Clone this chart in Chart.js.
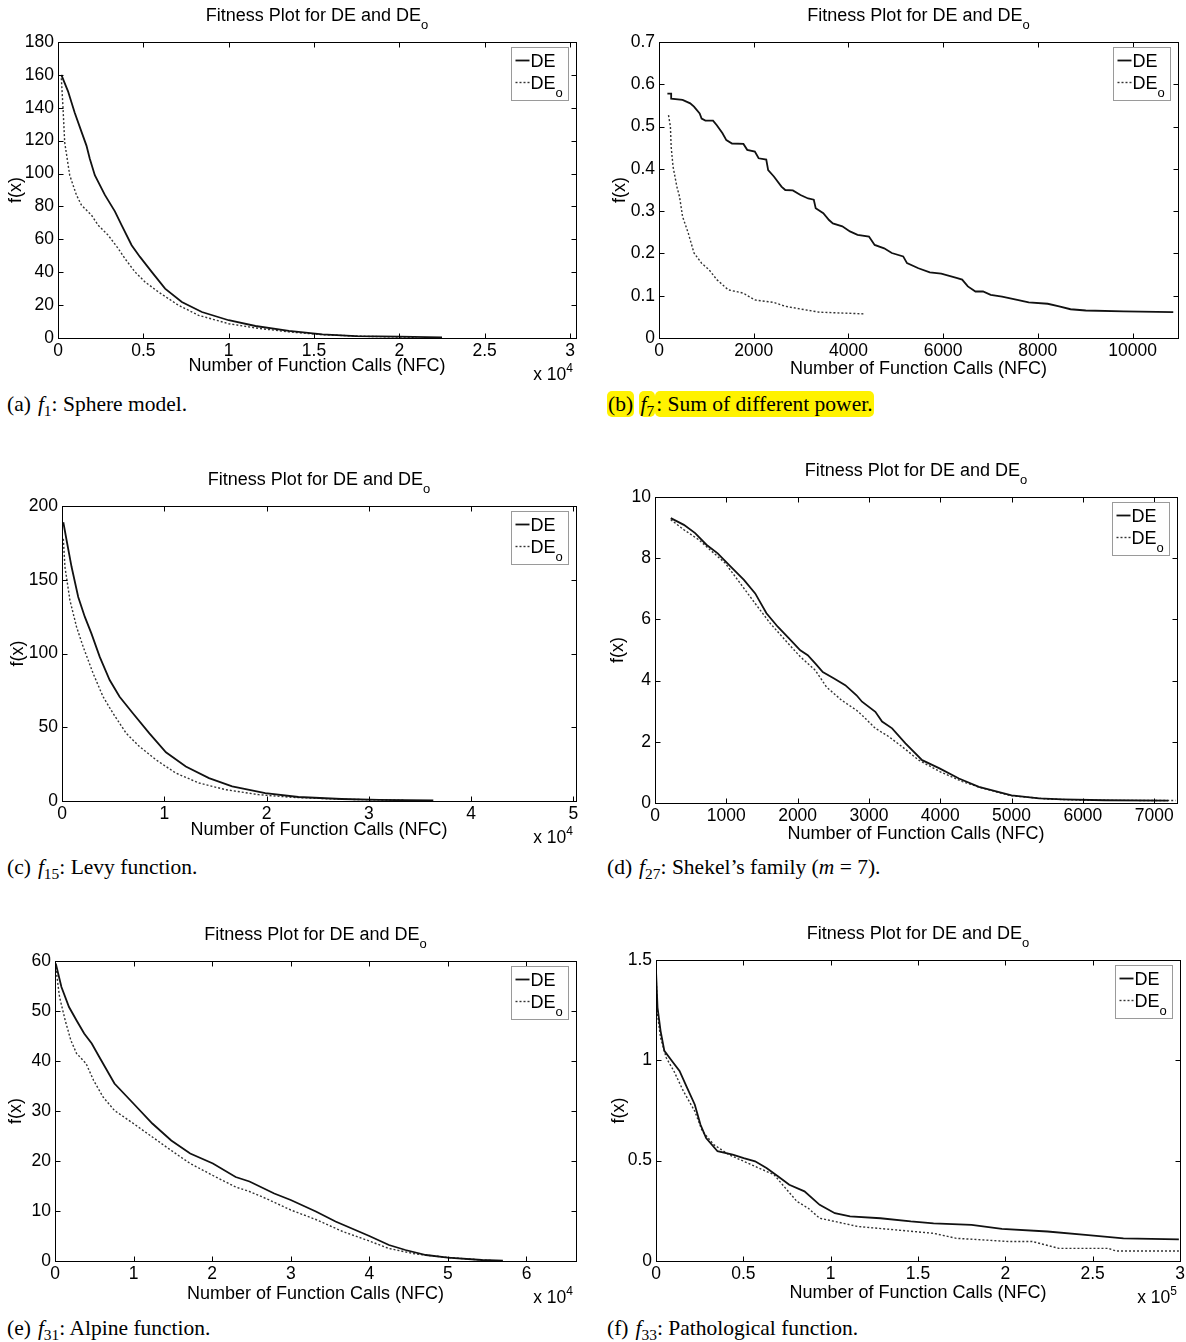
<!DOCTYPE html>
<html><head><meta charset="utf-8">
<script src="https://cdn.jsdelivr.net/npm/chart.js@4.4.0/dist/chart.umd.min.js"></script>
<style>
html,body{margin:0;padding:0;background:#fff;width:1186px;height:1342px;overflow:hidden;position:relative}
canvas{position:absolute}
.cap{position:absolute;font-family:'Liberation Serif','Times New Roman',serif;font-size:21.5px;line-height:24px;color:#000;white-space:nowrap}
.cap sub{font-size:0.72em;vertical-align:-0.3em;line-height:0}
.lab{margin-right:7px}
.hl{background:#fff200;border-radius:5px;padding:1px 1px}
</style></head><body>
<div class="cap" style="left:7px;top:392px"><span class="lab">(a)</span><i>f</i><sub>1</sub>: Sphere model.</div>
<div class="cap" style="left:607px;top:392px"><span class="hl">(b)</span> <span class="hl"><i>f</i><sub>7</sub></span><span class="hl">: Sum of different power.</span></div>
<div class="cap" style="left:7px;top:855px"><span class="lab">(c)</span><i>f</i><sub>15</sub>: Levy function.</div>
<div class="cap" style="left:607px;top:855px"><span class="lab">(d)</span><i>f</i><sub>27</sub>: Shekel’s family (<i>m</i> = 7).</div>
<div class="cap" style="left:7px;top:1316px"><span class="lab">(e)</span><i>f</i><sub>31</sub>: Alpine function.</div>
<div class="cap" style="left:607px;top:1316px"><span class="lab">(f)</span><i>f</i><sub>33</sub>: Pathological function.</div>
<script>
// ---------- DATA ----------
const seriesNames = ['DE', 'DE'];
// (a) f1 Sphere
const a_deX  = [196, 588, 980, 1373, 1667, 1863, 2157, 2745, 3333, 3725, 4314, 4804, 5490, 6275, 7255, 8431, 10000, 11569, 13529, 15490, 17451, 20000, 22500];
const a_deY  = [160, 150, 137, 125.5, 117, 109, 99, 87, 77, 68.6, 56.4, 49.3, 40.2, 30, 21.9, 15.8, 10.8, 7.3, 4.3, 2.2, 1.2, 0.8, 0.4];
const a_deoX = [196, 294, 392, 686, 1078, 1373, 1961, 2353, 2941, 3529, 3922, 4510, 5098, 5882, 7059, 8235, 10000, 11569, 13529, 15490, 18000, 21000];
const a_deoY = [158, 139.7, 119, 99, 87, 80.8, 74.7, 68.6, 62.5, 54.4, 48.3, 40.2, 34.1, 28, 19.9, 13.8, 8.7, 6.1, 3.7, 2.0, 1.0, 0.4];
const a_xTicks = [0, 5000, 10000, 15000, 20000, 25000, 30000];
const a_xTickLabels = ['0', '0.5', '1', '1.5', '2', '2.5', '3'];
const a_yTicks = [0, 20, 40, 60, 80, 100, 120, 140, 160, 180];
const a_yTickLabels = ['0', '20', '40', '60', '80', '100', '120', '140', '160', '180'];
// (b) f7 Sum of different power
const b_deX  = [177, 257, 257, 498, 659, 739, 859, 900, 980, 1141, 1221, 1341, 1422, 1542, 1783, 1863, 2024, 2104, 2265, 2305, 2426, 2586, 2667, 2827, 2988, 3149, 3269, 3309, 3470, 3590, 3671, 3871, 4032, 4193, 4434, 4554, 4755, 4916, 5157, 5237, 5478, 5719, 5960, 6281, 6402, 6522, 6683, 6843, 7004, 7245, 7566, 7807, 8209, 8450, 8691, 9012, 9815, 10860];
const b_deY  = [0.578, 0.578, 0.566, 0.563, 0.555, 0.547, 0.531, 0.519, 0.514, 0.514, 0.503, 0.484, 0.468, 0.460, 0.459, 0.445, 0.441, 0.425, 0.422, 0.397, 0.382, 0.358, 0.350, 0.349, 0.338, 0.330, 0.327, 0.307, 0.295, 0.279, 0.271, 0.264, 0.252, 0.244, 0.240, 0.220, 0.212, 0.201, 0.193, 0.177, 0.165, 0.155, 0.152, 0.142, 0.138, 0.122, 0.110, 0.110, 0.102, 0.098, 0.090, 0.084, 0.081, 0.075, 0.068, 0.065, 0.063, 0.061];
const b_deoX = [201, 241, 257, 297, 377, 434, 498, 618, 739, 900, 1060, 1221, 1462, 1783, 2024, 2426, 2667, 3068, 3390, 4353];
const b_deoY = [0.527, 0.50, 0.452, 0.405, 0.358, 0.334, 0.287, 0.248, 0.201, 0.177, 0.161, 0.138, 0.114, 0.106, 0.090, 0.084, 0.075, 0.067, 0.061, 0.057];
const b_xTicks = [0, 2000, 4000, 6000, 8000, 10000];
const b_xTickLabels = ['0', '2000', '4000', '6000', '8000', '10000'];
const b_yTicks = [0, 0.1, 0.2, 0.3, 0.4, 0.5, 0.6, 0.7];
const b_yTickLabels = ['0', '0.1', '0.2', '0.3', '0.4', '0.5', '0.6', '0.7'];
// (c) f15 Levy
const c_deX  = [129, 453, 939, 1586, 2233, 2880, 3689, 4660, 5631, 6926, 8544, 10162, 12104, 14369, 16634, 19870, 23107, 27314, 31000, 36300];
const c_deY  = [189, 176.6, 158.6, 138.3, 124.8, 113.5, 97.7, 82, 70.7, 59.5, 45.9, 33, 23.4, 15.5, 9.9, 5.4, 2.7, 1.35, 0.7, 0.4];
const c_deoX = [129, 291, 777, 1424, 2071, 3042, 4013, 4984, 6278, 7573, 9191, 11133, 13398, 15987, 19223, 22459, 27314, 33500];
const c_deoY = [177.7, 158.6, 136, 118, 104.5, 86.5, 70.7, 59.5, 45.9, 36.9, 27.9, 18.9, 12.2, 7.7, 4.3, 2.5, 1.2, 0.45];
const c_xTicks = [0, 10000, 20000, 30000, 40000, 50000];
const c_xTickLabels = ['0', '1', '2', '3', '4', '5'];
const c_yTicks = [0, 50, 100, 150, 200];
const c_yTickLabels = ['0', '50', '100', '150', '200'];
// (d) f27 Shekel m=7
const d_deX  = [221, 405, 563, 721, 879, 1037, 1247, 1405, 1563, 1721, 1879, 2037, 2142, 2247, 2353, 2511, 2668, 2826, 2903, 3090, 3184, 3325, 3512, 3746, 3990, 4262, 4542, 5000, 5385, 5713, 6300, 7195];
const d_deY  = [9.31, 9.09, 8.82, 8.44, 8.16, 7.78, 7.29, 6.85, 6.20, 5.76, 5.38, 4.99, 4.83, 4.56, 4.28, 4.07, 3.85, 3.52, 3.31, 2.98, 2.66, 2.44, 1.95, 1.40, 1.13, 0.80, 0.53, 0.25, 0.15, 0.12, 0.09, 0.08];
const d_deoX = [221, 405, 616, 774, 984, 1195, 1405, 1616, 1826, 2037, 2247, 2405, 2616, 2826, 2903, 3090, 3278, 3465, 3699, 4000, 4310, 4542, 4984, 5511, 6037, 7300];
const d_deoY = [9.26, 8.93, 8.6, 8.27, 7.84, 7.18, 6.52, 5.87, 5.32, 4.78, 4.34, 3.79, 3.36, 3.03, 2.87, 2.44, 2.17, 1.84, 1.40, 1.02, 0.70, 0.52, 0.24, 0.13, 0.09, 0.08];
const d_xTicks = [0, 1000, 2000, 3000, 4000, 5000, 6000, 7000];
const d_xTickLabels = ['0', '1000', '2000', '3000', '4000', '5000', '6000', '7000'];
const d_yTicks = [0, 2, 4, 6, 8, 10];
const d_yTickLabels = ['0', '2', '4', '6', '8', '10'];
// (e) f31 Alpine
const e_deX  = [96, 819, 1783, 2747, 3711, 4675, 5639, 7566, 9976, 12386, 14795, 17205, 20096, 22988, 24750, 27900, 30000, 33200, 35700, 40000, 42500, 44600, 47200, 50000, 54300, 57000];
const e_deY  = [59.5, 54.8, 50.8, 48.1, 45.5, 43.5, 40.8, 35.5, 31.5, 27.5, 24.1, 21.5, 19.5, 16.8, 15.9, 13.5, 12.2, 9.9, 7.9, 5.0, 3.2, 2.2, 1.2, 0.66, 0.2, 0.08];
const e_deoX = [96, 578, 1301, 2024, 2747, 3952, 4916, 6120, 7566, 9976, 12386, 14795, 17205, 20096, 22988, 24750, 27000, 30000, 33200, 36600, 40000, 42500, 45900, 50000, 53500, 55500];
const e_deoY = [58.8, 52.8, 48.1, 44.1, 41.5, 39.5, 36.1, 32.8, 30.1, 27.5, 24.8, 22.1, 19.5, 17.1, 14.8, 13.9, 12.4, 10.2, 8.3, 5.9, 4.0, 2.5, 1.4, 0.7, 0.3, 0.1];
const e_xTicks = [0, 10000, 20000, 30000, 40000, 50000, 60000];
const e_xTickLabels = ['0', '1', '2', '3', '4', '5', '6'];
const e_yTicks = [0, 10, 20, 30, 40, 50, 60];
const e_yTickLabels = ['0', '10', '20', '30', '40', '50', '60'];
// (f) f33 Pathological
const f_deX  = [0, 870, 2609, 4783, 9130, 13478, 17826, 22174, 25435, 28696, 35217, 43913, 50217, 56739, 63261, 69783, 76304, 85000, 93696, 102391, 111087, 128478, 145870, 158913, 180652, 198043, 224130, 245870, 267609, 299348];
const f_deY  = [1.447, 1.263, 1.147, 1.047, 0.997, 0.947, 0.863, 0.78, 0.68, 0.613, 0.547, 0.53, 0.513, 0.497, 0.463, 0.422, 0.38, 0.347, 0.28, 0.238, 0.222, 0.213, 0.197, 0.188, 0.18, 0.16, 0.147, 0.13, 0.113, 0.108];
const f_deoX = [0, 870, 2609, 5870, 10217, 15652, 22174, 26522, 33043, 41739, 50217, 58913, 67609, 74130, 80652, 87174, 93696, 102391, 115435, 137174, 158913, 171957, 202391, 215435, 230652, 258913, 263261, 299348];
const f_deoY = [1.43, 1.23, 1.113, 1.013, 0.947, 0.847, 0.747, 0.647, 0.58, 0.53, 0.497, 0.463, 0.43, 0.363, 0.297, 0.263, 0.213, 0.197, 0.172, 0.155, 0.138, 0.113, 0.097, 0.097, 0.063, 0.063, 0.05, 0.05];
const f_xTicks = [0, 50000, 100000, 150000, 200000, 250000, 300000];
const f_xTickLabels = ['0', '0.5', '1', '1.5', '2', '2.5', '3'];
const f_yTicks = [0, 0.5, 1, 1.5];
const f_yTickLabels = ['0', '0.5', '1', '1.5'];

const titleText = 'Fitness Plot for DE and DE';
const titleSub = 'o';
const xLabelText = 'Number of Function Calls (NFC)';
const yLabelText = 'f(x)';

// ---------- LAYOUT ----------
const FONT = "'Liberation Sans', Arial, Helvetica, sans-serif";
const FS = 18;     // labels, title, legend
const TFS = 17.5;  // tick labels
const panels = [
  {canvas:[0,0,593,392],     plot:[58,42,576,338],    xMax:30350, yMax:180, exp:'4', ylx:43, xlo:27,
   de:[a_deX,a_deY], deo:[a_deoX,a_deoY], xt:[a_xTicks,a_xTickLabels], yt:[a_yTicks,a_yTickLabels]},
  {canvas:[593,0,593,392],   plot:[659,42,1178,338],  xMax:10960, yMax:0.7, exp:null, ylx:40, xlo:30,
   de:[b_deX,b_deY], deo:[b_deoX,b_deoY], xt:[b_xTicks,b_xTickLabels], yt:[b_yTicks,b_yTickLabels]},
  {canvas:[0,450,593,405],   plot:[62,506,576,801],   xMax:50250, yMax:200, exp:'4', ylx:45, xlo:28,
   de:[c_deX,c_deY], deo:[c_deoX,c_deoY], xt:[c_xTicks,c_xTickLabels], yt:[c_yTicks,c_yTickLabels]},
  {canvas:[593,450,593,405], plot:[655,497,1177,803], xMax:7320, yMax:10, exp:null, ylx:38, xlo:30,
   de:[d_deX,d_deY], deo:[d_deoX,d_deoY], xt:[d_xTicks,d_xTickLabels], yt:[d_yTicks,d_yTickLabels]},
  {canvas:[0,910,593,405],   plot:[55,961,576,1261],  xMax:66300, yMax:60, exp:'4', ylx:40, xlo:32,
   de:[e_deX,e_deY], deo:[e_deoX,e_deoY], xt:[e_xTicks,e_xTickLabels], yt:[e_yTicks,e_yTickLabels]},
  {canvas:[593,910,593,405], plot:[656,960,1180,1261],xMax:300000, yMax:1.5, exp:'5', ylx:38, xlo:31,
   de:[f_deX,f_deY], deo:[f_deoX,f_deoY], xt:[f_xTicks,f_xTickLabels], yt:[f_yTicks,f_yTickLabels]}
];

function drawRich(ctx, parts, x, y, align) {
  let total = 0;
  parts.forEach(p => { ctx.font = p.size + 'px ' + FONT; p.w = ctx.measureText(p.t).width; total += p.w; });
  let cx = align === 'center' ? x - total / 2 : (align === 'right' ? x - total : x);
  ctx.textAlign = 'left'; ctx.textBaseline = 'alphabetic';
  parts.forEach(p => { ctx.font = p.size + 'px ' + FONT; ctx.fillText(p.t, cx, y + (p.dy || 0)); cx += p.w; });
}

const matlabPlugin = {
  id: 'matlab',
  afterDraw(chart, args, o) {
    const ctx = chart.ctx, ca = chart.chartArea;
    const xs = chart.scales.x, ys = chart.scales.y;
    const L = Math.round(ca.left) + 0.5, R = Math.round(ca.right) + 0.5;
    const T = Math.round(ca.top) + 0.5, B = Math.round(ca.bottom) + 0.5;
    ctx.save();
    ctx.strokeStyle = '#000'; ctx.lineWidth = 1; ctx.setLineDash([]);
    ctx.strokeRect(L, T, R - L, B - T);
    const tl = 5;
    ctx.beginPath();
    xs.ticks.forEach(t => {
      const px = Math.round(xs.getPixelForValue(t.value)) + 0.5;
      ctx.moveTo(px, B); ctx.lineTo(px, B - tl);
      ctx.moveTo(px, T); ctx.lineTo(px, T + tl);
    });
    ys.ticks.forEach(t => {
      const py = Math.round(ys.getPixelForValue(t.value)) + 0.5;
      ctx.moveTo(L, py); ctx.lineTo(L + tl, py);
      ctx.moveTo(R, py); ctx.lineTo(R - tl, py);
    });
    ctx.stroke();
    ctx.fillStyle = '#000';
    const cx = (ca.left + ca.right) / 2, cy = (ca.top + ca.bottom) / 2;
    // title
    drawRich(ctx, [{t: titleText, size: FS}, {t: titleSub, size: 13, dy: 8}], cx, ca.top - 21, 'center');
    // x label
    drawRich(ctx, [{t: xLabelText, size: FS}], cx, ca.bottom + o.xlo + 6, 'center');
    // exponent
    if (o.exp) drawRich(ctx, [{t: 'x 10', size: TFS}, {t: o.exp, size: 12, dy: -8}], ca.right - 3, ca.bottom + 42, 'right');
    // y label
    ctx.save();
    ctx.translate(ca.left - o.ylx, cy);
    ctx.rotate(-Math.PI / 2);
    drawRich(ctx, [{t: yLabelText, size: FS}], 0, 6, 'center');
    ctx.restore();
    // legend
    const lw = 57, lh = 53;
    const lx = Math.round(ca.right - 8 - lw) + 0.5, ly = Math.round(ca.top + 5) + 0.5;
    ctx.fillStyle = '#fff'; ctx.fillRect(lx, ly, lw, lh);
    ctx.strokeStyle = '#9a9a9a'; ctx.lineWidth = 1; ctx.strokeRect(lx, ly, lw, lh);
    ctx.strokeStyle = '#111'; ctx.lineWidth = 1.8;
    ctx.beginPath(); ctx.moveTo(lx + 4, ly + 13); ctx.lineTo(lx + 18, ly + 13); ctx.stroke();
    ctx.strokeStyle = '#333'; ctx.lineWidth = 1.4; ctx.setLineDash([2, 2]);
    ctx.beginPath(); ctx.moveTo(lx + 4, ly + 35); ctx.lineTo(lx + 18, ly + 35); ctx.stroke();
    ctx.setLineDash([]);
    ctx.fillStyle = '#000';
    drawRich(ctx, [{t: seriesNames[0], size: FS}], lx + 19, ly + 19, 'left');
    drawRich(ctx, [{t: seriesNames[1], size: FS}, {t: titleSub, size: 13, dy: 8}], lx + 19, ly + 41, 'left');
    ctx.restore();
  }
};

panels.forEach(p => {
  const cv = document.createElement('canvas');
  const [cx, cy, cw, ch] = p.canvas;
  cv.width = cw; cv.height = ch;
  cv.style.left = cx + 'px'; cv.style.top = cy + 'px';
  cv.style.width = cw + 'px'; cv.style.height = ch + 'px';
  document.body.appendChild(cv);
  const padTop = p.plot[1] - cy;
  const padRight = (cx + cw) - p.plot[2];
  const yW = p.plot[0] - cx;
  const xH = (cy + ch) - p.plot[3];
  const toPts = (xs, ys) => xs.map((x, i) => ({x: x, y: ys[i]}));
  const tickFont = {family: FONT, size: TFS};
  new Chart(cv, {
    type: 'line',
    data: {datasets: [
      {label: 'DE', data: toPts(p.de[0], p.de[1]), borderColor: '#111', borderWidth: 1.8,
       pointRadius: 0, tension: 0, fill: false},
      {label: 'DEo', data: toPts(p.deo[0], p.deo[1]), borderColor: '#333', borderWidth: 1.4,
       borderDash: [2, 2], pointRadius: 0, tension: 0, fill: false}
    ]},
    options: {
      responsive: false, animation: false, devicePixelRatio: 1,
      layout: {padding: {top: padTop, right: padRight, left: 0, bottom: 0}},
      plugins: {legend: {display: false}, title: {display: false}, tooltip: {enabled: false},
                matlab: {exp: p.exp, ylx: p.ylx, xlo: p.xlo}},
      scales: {
        x: {type: 'linear', min: 0, max: p.xMax,
            grid: {display: false, drawTicks: false}, border: {display: false},
            afterBuildTicks: s => { s.ticks = p.xt[0].map(v => ({value: v})); },
            afterFit: s => { s.height = xH; s.paddingLeft = 0; s.paddingRight = 0; },
            ticks: {autoSkip: false, maxRotation: 0, minRotation: 0, padding: 3, color: '#000',
                    font: tickFont, callback: (v, i) => p.xt[1][i]}},
        y: {type: 'linear', min: 0, max: p.yMax,
            grid: {display: false, drawTicks: false}, border: {display: false},
            afterBuildTicks: s => { s.ticks = p.yt[0].map(v => ({value: v})); },
            afterFit: s => { s.width = yW; s.paddingTop = 0; s.paddingBottom = 0; },
            ticks: {autoSkip: false, padding: 4, color: '#000',
                    font: tickFont, callback: (v, i) => p.yt[1][i]}}
      }
    },
    plugins: [matlabPlugin]
  });
});
</script>
</body></html>
